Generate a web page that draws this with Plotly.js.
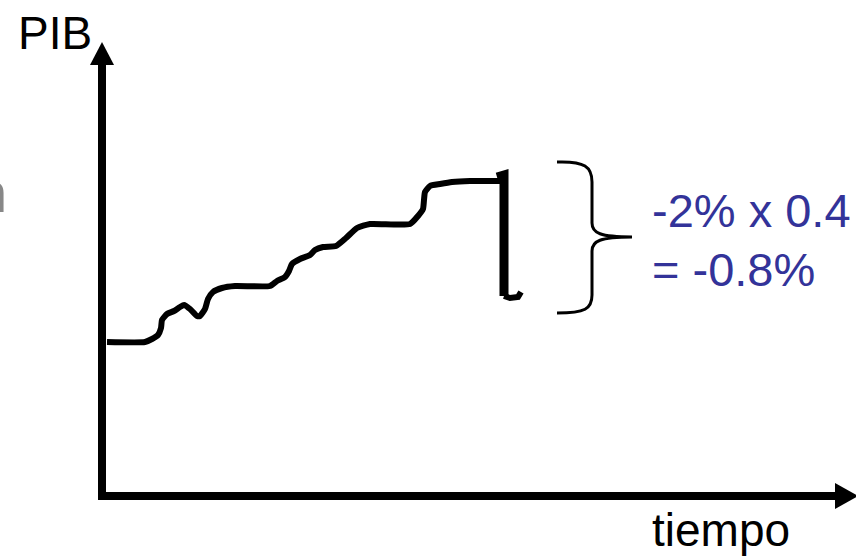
<!DOCTYPE html>
<html>
<head>
<meta charset="utf-8">
<script src="https://cdn.plot.ly/plotly-3.0.1.min.js"></script>
<style>html,body{margin:0;padding:0;background:#fff;}#chart{width:856px;height:559px;}</style>
</head>
<body>
<div id="chart"></div>
<script>
// Schematic GDP path before the shock (time units, GDP units)
const tiempo = [107,145,152,158,161,162,167,174,180,184,190,197,200,205,208,213,222,235,270,277,285,289,292,300,310,315,323,336,346,357,370,410,418,423,424,425,430,440,452,470,500,504];
const pib    = [217,217,220,224,231,239,245,248,252,254,250,243,243,250,260,267,271,273,273,278,282,288,295,300,304,309,312,313,321,331,335,335,343,350,359,367,373,375,377,378,378,378];
// Sharp drop after the shock
const caidaTiempo = [497,504,504,504];
const caidaPib    = [382,384,378,263];
// Small tail after the drop
const colaTiempo = [504,510,518,521];
const colaPib    = [263,261,262,267];

const labelTop = "-2% x 0.4";
const labelBottom = "= -0.8%";
const yLabel = "PIB";
const xLabel = "tiempo";

const FONT = "Liberation Sans, Arial, sans-serif";
const BLUE = "#333399";

const traces = [
  {x: tiempo, y: pib, type: "scatter", mode: "lines",
   line: {color: "#000", width: 6, shape: "spline", smoothing: 0.5}, hoverinfo: "skip"},
  {x: caidaTiempo, y: caidaPib, type: "scatter", mode: "lines",
   line: {color: "#000", width: 9}, hoverinfo: "skip"},
  {x: colaTiempo, y: colaPib, type: "scatter", mode: "lines",
   line: {color: "#000", width: 6}, hoverinfo: "skip"}
];

const layout = {
  width: 856, height: 559,
  margin: {l: 0, r: 0, t: 0, b: 0},
  paper_bgcolor: "#fff", plot_bgcolor: "#fff",
  showlegend: false,
  xaxis: {range: [0, 856], visible: false, fixedrange: true},
  yaxis: {range: [0, 559], visible: false, fixedrange: true},
  shapes: [
    // vertical axis
    {type: "line", xref: "x", yref: "y", x0: 102, x1: 102, y0: 59, y1: 494, line: {color: "#000", width: 8}},
    {type: "path", xref: "x", yref: "y", path: "M 90,494 L 114,494 L 102,517 Z", fillcolor: "#000", line: {color: "#000", width: 0}},
    // horizontal axis
    {type: "line", xref: "x", yref: "y", x0: 98, x1: 836, y0: 63, y1: 63, line: {color: "#000", width: 8}},
    {type: "path", xref: "x", yref: "y", path: "M 835,76 L 835,50 L 858,63 Z", fillcolor: "#000", line: {color: "#000", width: 0}},
    // brace
    {type: "path", xref: "x", yref: "y",
     path: "M 557,397 C 585,398 592,392 592,377 L 592,336 C 592,326 600,322 632,322 C 600,322 592,318 592,308 L 592,264 C 592,250 585,246 557,246",
     line: {color: "#000", width: 3}}
  ],
  annotations: [
    {x: 650, y: 349, xref: "x", yref: "y", xanchor: "left", yanchor: "middle", showarrow: false,
     text: labelTop, font: {family: FONT, size: 47, color: BLUE}},
    {x: 650, y: 290, xref: "x", yref: "y", xanchor: "left", yanchor: "middle", showarrow: false,
     text: labelBottom, font: {family: FONT, size: 47, color: BLUE}},
    {x: 16, y: 526, xref: "x", yref: "y", xanchor: "left", yanchor: "middle", showarrow: false,
     text: yLabel, font: {family: FONT, size: 46, color: "#000"}},
    {x: 650, y: 29, xref: "x", yref: "y", xanchor: "left", yanchor: "middle", showarrow: false,
     text: xLabel, font: {family: FONT, size: 46, color: "#000"}},
    {x: 9, y: 367, xref: "x", yref: "y", xanchor: "right", yanchor: "middle", showarrow: false,
     text: "n", font: {family: FONT, size: 56, color: "#888"}}
  ]
};

Plotly.newPlot("chart", traces, layout, {displayModeBar: false, staticPlot: true});
</script>
</body>
</html>
